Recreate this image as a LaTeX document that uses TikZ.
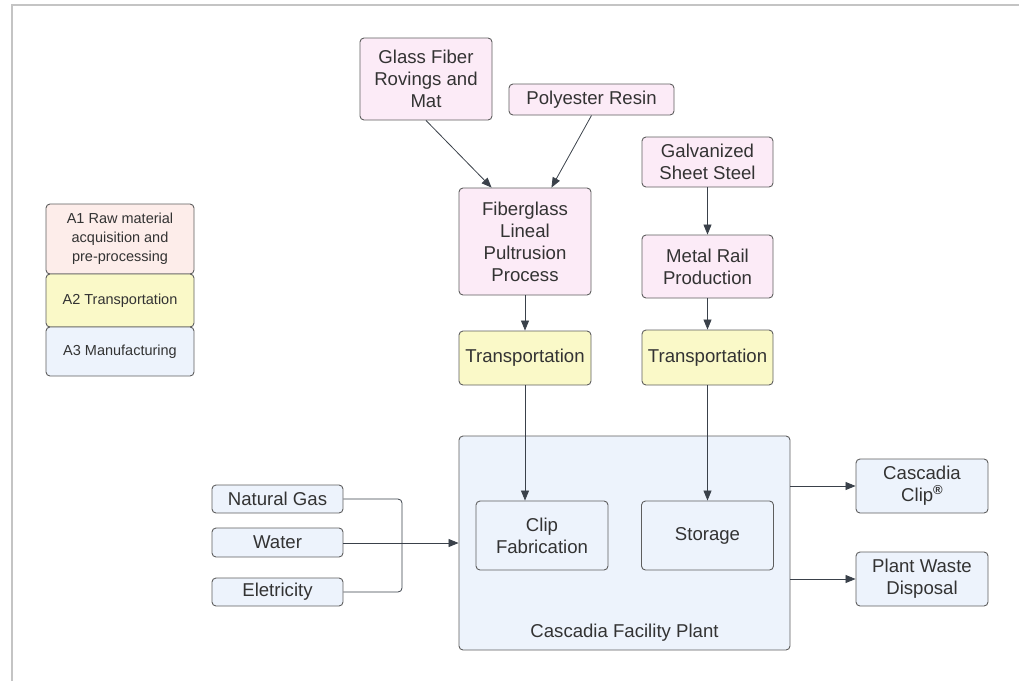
\documentclass[tikz,border=0pt]{standalone}
\usepackage{fontspec}
\setmainfont{Liberation Sans}
\usetikzlibrary{arrows.meta,calc}
\definecolor{pinkfill}{HTML}{FCEBF7}
\definecolor{salmonfill}{HTML}{FDEDEA}
\definecolor{yellowfill}{HTML}{FAF9C8}
\definecolor{bluefill}{HTML}{EDF3FC}
\definecolor{boxline}{HTML}{5E5E5E}
\definecolor{arrowline}{HTML}{3A414A}
\definecolor{textcol}{HTML}{333333}
\definecolor{framecol}{HTML}{C4C4C4}
\tikzset{
  box/.style={draw=boxline, line width=0.9pt, rounded corners=4pt, align=center,
    text=textcol, inner sep=2pt, font=\fontsize{18.6}{22}\selectfont},
  pinkbox/.style={box, fill=pinkfill},
  yellowbox/.style={box, fill=yellowfill},
  bluebox/.style={box, fill=bluefill},
  legbox/.style={box, font=\fontsize{14.5}{19}\selectfont},
  arr/.style={draw=arrowline, line width=0.8pt, -{Triangle[length=10pt,width=8pt]}},
  conn/.style={draw=arrowline, line width=0.8pt, rounded corners=4pt},
}
\begin{document}
\begin{tikzpicture}[x=1pt,y=-1pt]
\useasboundingbox (0,0) rectangle (1019,681);
\draw[framecol, line width=2pt] (12,681) -- (12,5) -- (1019,5);

% legend
\node[legbox, fill=salmonfill, minimum width=148pt, minimum height=70pt] (l1) at (120,239) {A1 Raw material\\acquisition and\\pre-processing};
\node[legbox, fill=yellowfill, minimum width=148pt, minimum height=53pt] (l2) at (120,300.5) {A2 Transportation};
\node[legbox, fill=bluefill, minimum width=148pt, minimum height=49pt] (l3) at (120,351.5) {A3 Manufacturing};

% plant
\node[bluebox, minimum width=331pt, minimum height=214pt] (plant) at (624.5,543) {};
\node[text=textcol, font=\fontsize{18.6}{22}\selectfont] (plantlbl) at ([yshift=18pt]plant.south) {Cascadia Facility Plant};

% top
\node[pinkbox, minimum width=132pt, minimum height=82pt] (gf) at (426,79) {Glass Fiber\\Rovings and\\Mat};
\node[pinkbox, minimum width=165pt, minimum height=31pt] (pr) at (591.5,99.5) {Polyester Resin};
\node[pinkbox, minimum width=132pt, minimum height=107pt] (fg) at (525,241.5) {Fiberglass\\Lineal\\Pultrusion\\Process};
\node[yellowbox, minimum width=132pt, minimum height=54pt] (t1) at (525,358) {Transportation};
\node[pinkbox, minimum width=131pt, minimum height=50pt] (gs) at (707.5,162) {Galvanized\\Sheet Steel};
\node[pinkbox, minimum width=131pt, minimum height=63pt] (mr) at (707.5,266.5) {Metal Rail\\Production};
\node[yellowbox, minimum width=131pt, minimum height=55pt] (t2) at (707.5,357.5) {Transportation};

% inside plant
\node[bluebox, minimum width=132pt, minimum height=69pt] (cf) at (542,535.5) {Clip\\Fabrication};
\node[bluebox, minimum width=132pt, minimum height=69pt] (st) at (707.5,535.5) {Storage};

% inputs
\node[bluebox, minimum width=131pt, minimum height=28pt] (ng) at (277.5,499) {\raisebox{-2pt}{Natural Gas}};
\node[bluebox, minimum width=131pt, minimum height=29pt] (wa) at (277.5,542.5) {\raisebox{-2pt}{Water}};
\node[bluebox, minimum width=131pt, minimum height=28pt] (el) at (277.5,592) {\raisebox{-3pt}{Eletricity}};

% outputs
\node[bluebox, minimum width=132pt, minimum height=54pt] (cc) at (922,486) {Cascadia\\Clip\raisebox{0.42em}{\fontsize{13}{13}\selectfont\bfseries ®}};
\node[bluebox, minimum width=132pt, minimum height=54pt] (pw) at (922,579) {Plant Waste\\Disposal};

% connectors
\draw[arr] (gf.south) -- ([xshift=33pt]fg.north west);
\draw[arr] (pr.south) -- ([xshift=-40pt]fg.north east);
\draw[arr] (fg.south) -- (t1.north);
\draw[arr] (gs.south) -- (mr.north);
\draw[arr] (mr.south) -- (t2.north);
\draw[arr] (t1.south) -- (t1.south |- cf.north);
\draw[arr] (t2.south) -- (t2.south |- st.north);
\coordinate (jn) at (402,542);
\draw[conn] (ng.east) -- (ng.east -| jn) -- (jn);
\draw[conn] (el.east) -- (el.east -| jn) -- (jn);
\draw[arr] (wa.east |- plant.west) -- (plant.west);
\draw[arr] (plant.east |- cc.west) -- (cc.west);
\draw[arr] (plant.east |- pw.west) -- (pw.west);
\end{tikzpicture}
\end{document}
